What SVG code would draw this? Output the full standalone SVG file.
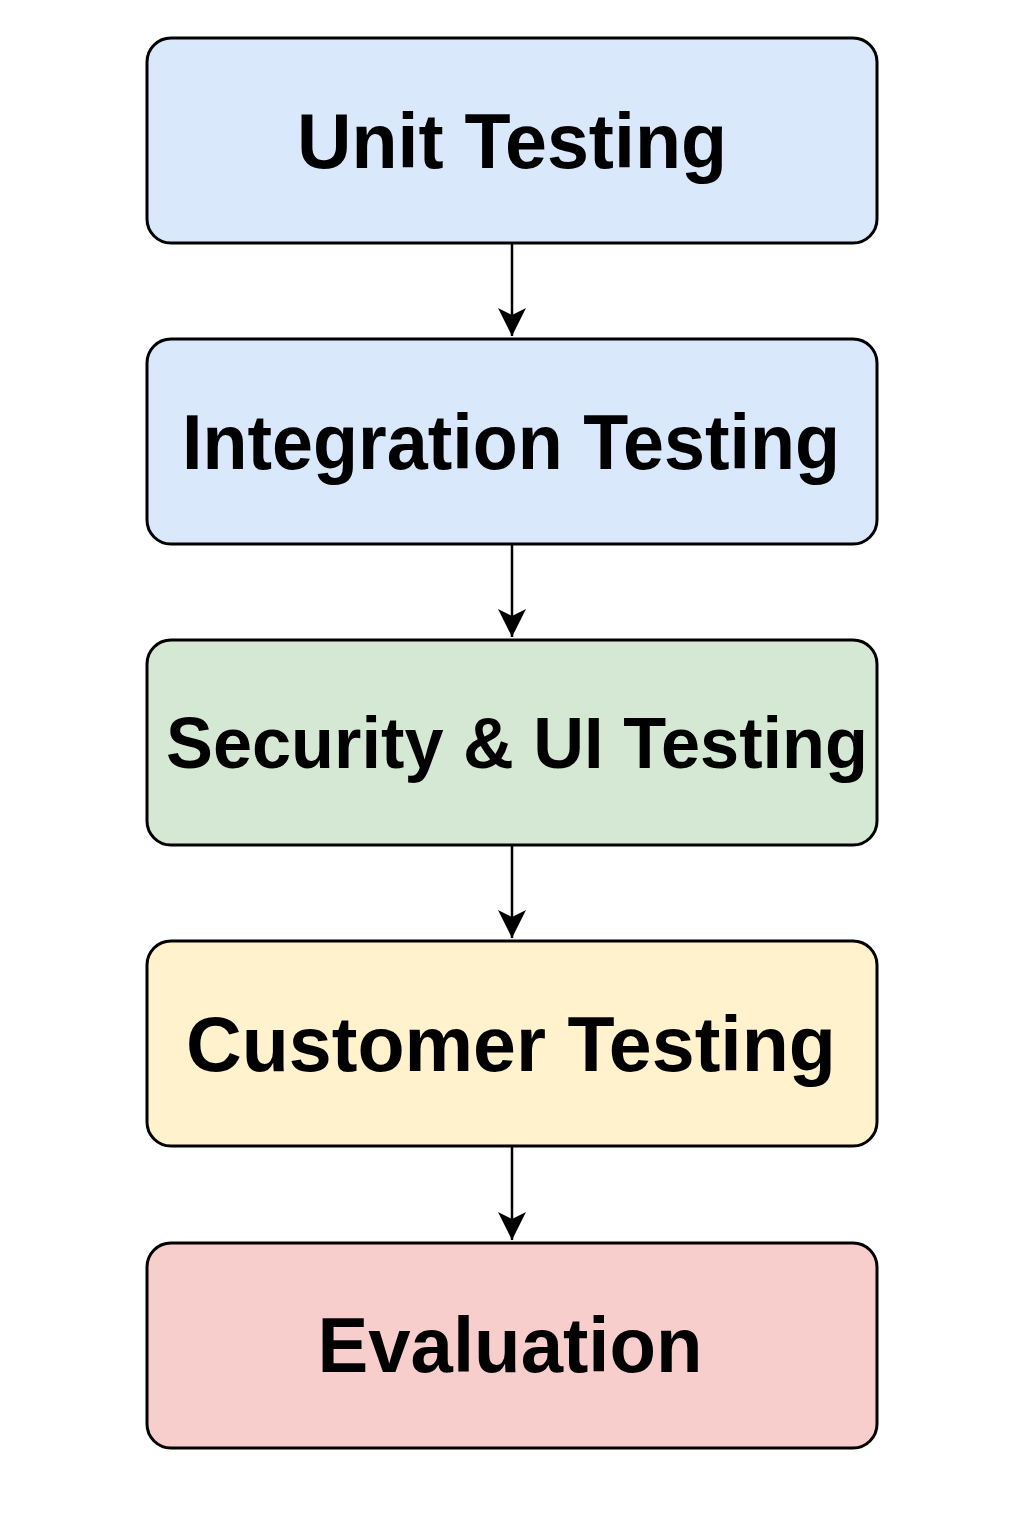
<svg xmlns="http://www.w3.org/2000/svg" width="1024" height="1536" viewBox="0 0 1024 1536">
<style>
.box{stroke:#000;stroke-width:3}
.lbl{font-family:"Liberation Sans",Arial,sans-serif;font-weight:bold;fill:#000;text-anchor:middle}
.conn{stroke:#000;stroke-width:2.5;fill:none}
</style>
<defs>
<marker id="arr" markerUnits="userSpaceOnUse" markerWidth="30" markerHeight="30" viewBox="0 0 30 30" refX="28" refY="15" orient="auto">
<path d="M0,1 L28,15 L0,29 L7,15 Z" fill="#000"/>
</marker>
</defs>
<rect width="1024" height="1536" fill="#fff"/>
<g id="connectors">
<line class="conn" x1="512" y1="244" x2="512" y2="336" marker-end="url(#arr)"/>
<line class="conn" x1="512" y1="545" x2="512" y2="637" marker-end="url(#arr)"/>
<line class="conn" x1="512" y1="846" x2="512" y2="938" marker-end="url(#arr)"/>
<line class="conn" x1="512" y1="1147" x2="512" y2="1240" marker-end="url(#arr)"/>
</g>
<g id="unit-testing">
<rect class="box" x="147" y="38" width="730" height="205" rx="24" fill="#dae8fc"/>
<text class="lbl" x="512" y="168" font-size="77" textLength="430" lengthAdjust="spacingAndGlyphs">Unit Testing</text>
</g>
<g id="integration-testing">
<rect class="box" x="147" y="339" width="730" height="205" rx="24" fill="#dae8fc"/>
<text class="lbl" x="511" y="469" font-size="77" textLength="658" lengthAdjust="spacingAndGlyphs">Integration Testing</text>
</g>
<g id="security-ui-testing">
<rect class="box" x="147" y="640" width="730" height="205" rx="24" fill="#d5e8d4"/>
<text class="lbl" x="517" y="768" font-size="73" textLength="702" lengthAdjust="spacingAndGlyphs">Security &amp; UI Testing</text>
</g>
<g id="customer-testing">
<rect class="box" x="147" y="941" width="730" height="205" rx="24" fill="#fff2cc"/>
<text class="lbl" x="511" y="1071" font-size="77" textLength="650" lengthAdjust="spacingAndGlyphs">Customer Testing</text>
</g>
<g id="evaluation">
<rect class="box" x="147" y="1243" width="730" height="205" rx="24" fill="#f8cecc"/>
<text class="lbl" x="510" y="1372" font-size="77" textLength="385" lengthAdjust="spacingAndGlyphs">Evaluation</text>
</g>
</svg>
